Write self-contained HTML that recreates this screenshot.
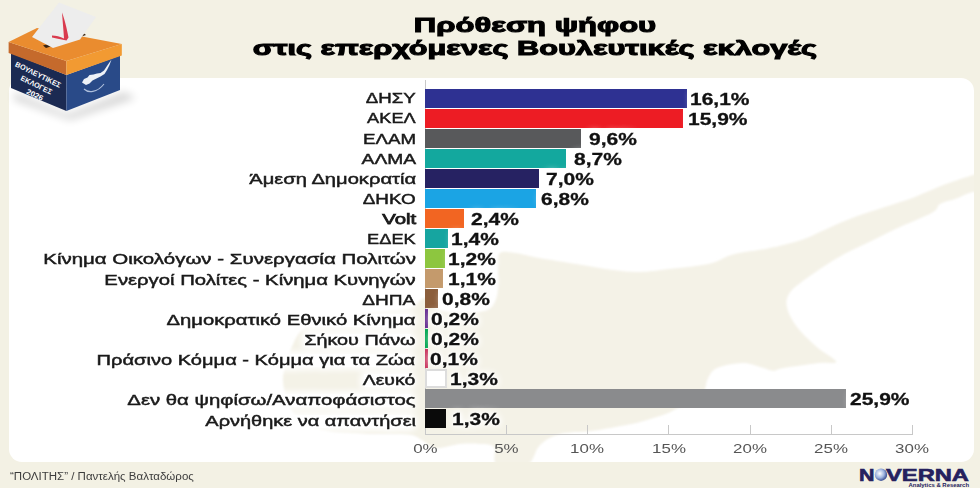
<!DOCTYPE html>
<html><head><meta charset="utf-8">
<style>
html,body{margin:0;padding:0;}
body{width:980px;height:488px;position:relative;overflow:hidden;background:#f3f1e4;font-family:"Liberation Sans",sans-serif;}
#panel{position:absolute;left:9px;top:78px;width:965px;height:384px;background:#ffffff;border-radius:13px;overflow:hidden;}
#map{position:absolute;left:0;top:0;}
.bar{position:absolute;height:18.5px;}
.lab{position:absolute;height:18px;line-height:18px;font-size:14.5px;color:#1a1a1a;white-space:nowrap;-webkit-text-stroke:0.45px #1a1a1a;text-shadow:0 0 2px #fff,0 0 3px #fff,0 0 5px #fff,0 0 7px #fff,0 0 9px #fff,0 0 9px #fff;}
.lab span{display:inline-block;transform-origin:100% 50%;position:relative;}
.lab span::before{content:'';position:absolute;left:1px;right:4px;top:3px;bottom:2px;background:#fff;box-shadow:0 0 6px 2px #fff;z-index:-1;}
.lab{z-index:1;}
.val{position:absolute;height:18px;line-height:18px;font-size:16px;font-weight:700;color:#111;white-space:nowrap;-webkit-text-stroke:0.3px #111;text-shadow:0 0 2px #fff,0 0 4px #fff,0 0 6px #fff,0 0 8px #fff,0 0 8px #fff;}
.val span{display:inline-block;transform-origin:0 50%;transform:scaleX(1.31);}
#axis{position:absolute;left:425px;top:80px;width:1px;height:355px;background:#c8c8c8;}
#haxis{position:absolute;left:425px;top:434px;width:488px;height:1px;background:#c8c8c8;}
.tick{position:absolute;top:425px;width:1px;height:9px;background:#c8c8c8;}
.tl{position:absolute;top:442px;width:80px;text-align:center;font-size:13px;color:#555;line-height:14px;}
.tl span{display:inline-block;transform:scaleX(1.3);}
#title{position:absolute;left:0;top:13px;width:1070px;text-align:center;font-weight:700;color:#000;font-size:21px;line-height:23.4px;-webkit-text-stroke:1.1px #000;}
#title div span{display:inline-block;transform:scaleX(1.462);}
#title div:first-child span{transform:scaleX(1.477);}
#src{position:absolute;left:10px;top:470.5px;font-size:10px;color:#3c3c3c;white-space:nowrap;}
#src span{display:inline-block;transform-origin:0 50%;transform:scaleX(1.15);}
#logo{position:absolute;left:859px;top:466px;}
</style></head><body>
<div id="panel">
<svg id="map" width="965" height="384" viewBox="9 78 965 384"><defs><filter id="mb" x="-5%" y="-5%" width="110%" height="110%"><feGaussianBlur stdDeviation="1.2"/></filter></defs>
<path filter="url(#mb)" fill="#f4f2e7" d="M425 298 C429.0 298.3 431.8 306.7 436 309 C440.2 311.3 444.2 311.3 450 312 C455.8 312.7 464.5 313.5 471 313 C477.5 312.5 484.7 311.8 489 309 C493.3 306.2 495.5 301.7 497 296 C498.5 290.3 497.7 282.0 498 275 C498.3 268.0 496.2 257.7 499 254 C501.8 250.3 508.3 252.3 515 253 C521.7 253.7 528.3 256.1 539 258 C549.7 259.9 566.7 262.5 579 264.5 C591.3 266.5 602.8 268.8 613 270 C623.2 271.2 630.7 272.2 640 272 C649.3 271.8 657.6 270.3 669 269 C680.4 267.7 697.8 266.4 708.5 264 C719.2 261.6 723.1 257.0 733 254.4 C742.9 251.8 756.1 250.9 767.6 248.5 C779.1 246.1 792.2 243.0 802 239.7 C811.8 236.4 817.6 232.8 826.6 228.9 C835.6 225.1 846.2 220.3 856 216.6 C865.8 212.9 875.8 210.0 885.6 206.7 C895.4 203.4 905.2 200.6 915 196.9 C924.8 193.2 934.8 188.3 944.6 184.6 C954.4 180.9 967.3 176.9 974 174.8 C980.7 172.7 983.2 169.3 985 172 C986.8 174.7 987.3 187.6 985 191 C982.7 194.4 976.0 191.1 971 192.4 C966.0 193.7 960.2 197.1 955 199 C949.8 200.9 943.8 201.7 940 204 C936.2 206.3 939.4 208.5 932 212.7 C924.6 216.8 906.5 223.8 895.5 228.9 C884.5 234.1 875.9 238.7 866 243.6 C856.1 248.5 846.2 252.7 836.4 258.4 C826.6 264.1 814.8 272.3 807 278 C799.2 283.7 793.0 287.9 789.7 292.8 C786.4 297.7 785.8 301.9 787 307.6 C788.2 313.3 792.0 320.4 797 327 C802.0 333.6 810.2 341.1 816.8 346.9 C823.4 352.7 836.0 359.0 836.4 361.7 C836.8 364.4 827.8 361.9 819 363 C810.2 364.1 791.1 366.7 783.4 368 C775.7 369.3 776.8 370.9 773 370.7 C769.2 370.5 765.5 368.3 760.4 367 C755.3 365.7 749.7 362.8 742.5 363 C735.3 363.2 722.8 365.4 717 368 C711.2 370.6 710.0 374.9 708 378.4 C706.0 381.8 706.3 385.1 705 388.7 C703.7 392.3 704.4 396.8 700 400 C695.6 403.2 684.1 405.7 678.4 408 C672.7 410.3 672.0 411.7 665.6 414 C659.2 416.3 647.4 420.0 640 422 C632.6 424.0 629.2 424.5 621 426 C612.8 427.5 601.2 429.7 591 431 C580.8 432.3 568.5 431.7 560 434 C551.5 436.3 545.5 439.8 540 445 C534.5 450.2 534.2 461.7 527 465 C519.8 468.3 502.5 468.0 497 465 C491.5 462.0 496.8 450.5 494 447 C491.2 443.5 485.7 444.5 480 444 C474.3 443.5 467.3 443.3 460 444 C452.7 444.7 442.3 448.7 436 448 C429.7 447.3 426.0 442.2 422 440 C418.0 437.8 416.5 436.0 412 435 C407.5 434.0 402.0 434.2 395 434 C388.0 433.8 377.0 434.2 370 434 C363.0 433.8 359.9 433.5 353 433 C346.1 432.5 336.7 432.6 328.5 431 C320.3 429.4 310.6 427.9 304 423.6 C297.4 419.3 292.5 412.4 289 405 C285.5 397.6 283.0 387.3 283 379 C283.0 370.7 286.8 361.8 289 355 C291.2 348.2 293.5 342.5 296 338 C298.5 333.5 300.8 330.7 304 328 C307.2 325.3 307.0 324.2 315 322 C323.0 319.8 338.7 317.0 352 315 C365.3 313.0 385.0 311.3 395 310 C405.0 308.7 407.0 309.0 412 307 C417.0 305.0 421.0 297.7 425 298Z"/>
</svg>
</div>
<div id="axis"></div><div id="haxis"></div>
<div class="tl" style="left:385.0px"><span>0%</span></div>
<div class="tick" style="left:505.8px"></div>
<div class="tl" style="left:466.2px"><span>5%</span></div>
<div class="tick" style="left:587.0px"></div>
<div class="tl" style="left:547.5px"><span>10%</span></div>
<div class="tick" style="left:668.2px"></div>
<div class="tl" style="left:628.8px"><span>15%</span></div>
<div class="tick" style="left:749.5px"></div>
<div class="tl" style="left:710.0px"><span>20%</span></div>
<div class="tick" style="left:830.8px"></div>
<div class="tl" style="left:791.2px"><span>25%</span></div>
<div class="tick" style="left:912.0px"></div>
<div class="tl" style="left:872.5px"><span>30%</span></div>
<div class="bar" style="left:425.0px;top:89.2px;width:261.6px;background:#2e3192;"></div>
<div class="lab" style="right:564.3px;top:89.2px;font-weight:400"><span style="transform:scaleX(1.289)">ΔΗΣΥ</span></div>
<div class="val" style="left:689.9px;top:91.2px"><span>16,1%</span></div>
<div class="bar" style="left:425.0px;top:109.2px;width:258.4px;background:#ed1c24;"></div>
<div class="lab" style="right:564.3px;top:109.3px;font-weight:400"><span style="transform:scaleX(1.256)">ΑΚΕΛ</span></div>
<div class="val" style="left:688.1px;top:111.2px"><span>15,9%</span></div>
<div class="bar" style="left:425.0px;top:129.2px;width:156.0px;background:#58595b;"></div>
<div class="lab" style="right:564.3px;top:129.5px;font-weight:400"><span style="transform:scaleX(1.289)">ΕΛΑΜ</span></div>
<div class="val" style="left:589.0px;top:131.2px"><span>9,6%</span></div>
<div class="bar" style="left:425.0px;top:149.2px;width:141.4px;background:#13a89e;"></div>
<div class="lab" style="right:564.3px;top:149.7px;font-weight:400"><span style="transform:scaleX(1.326)">ΑΛΜΑ</span></div>
<div class="val" style="left:573.9px;top:151.2px"><span>8,7%</span></div>
<div class="bar" style="left:425.0px;top:169.2px;width:113.8px;background:#262262;"></div>
<div class="lab" style="right:564.3px;top:169.8px;font-weight:400"><span style="transform:scaleX(1.389)">Άμεση Δημοκρατία</span></div>
<div class="val" style="left:546.1px;top:171.2px"><span>7,0%</span></div>
<div class="bar" style="left:425.0px;top:189.2px;width:110.5px;background:#1ba4e4;"></div>
<div class="lab" style="right:564.3px;top:189.9px;font-weight:400"><span style="transform:scaleX(1.303)">ΔΗΚΟ</span></div>
<div class="val" style="left:540.5px;top:191.2px"><span>6,8%</span></div>
<div class="bar" style="left:425.0px;top:209.2px;width:39.0px;background:#f26522;"></div>
<div class="lab" style="right:564.3px;top:210.1px;font-weight:400;-webkit-text-stroke:0.75px #1a1a1a"><span style="transform:scaleX(1.402)">Volt</span></div>
<div class="val" style="left:470.5px;top:211.2px"><span>2,4%</span></div>
<div class="bar" style="left:425.0px;top:229.2px;width:22.8px;background:#16a5a0;"></div>
<div class="lab" style="right:564.3px;top:230.2px;font-weight:400"><span style="transform:scaleX(1.256)">ΕΔΕΚ</span></div>
<div class="val" style="left:450.6px;top:231.2px"><span>1,4%</span></div>
<div class="bar" style="left:425.0px;top:249.2px;width:19.5px;background:#8dc63f;"></div>
<div class="lab" style="right:564.3px;top:250.4px;font-weight:400"><span style="transform:scaleX(1.412)">Κίνημα Οικολόγων - Συνεργασία Πολιτών</span></div>
<div class="val" style="left:447.5px;top:251.2px"><span>1,2%</span></div>
<div class="bar" style="left:425.0px;top:269.2px;width:17.9px;background:#c49a6c;"></div>
<div class="lab" style="right:564.3px;top:270.6px;font-weight:400"><span style="transform:scaleX(1.398)">Ενεργοί Πολίτες - Κίνημα Κυνηγών</span></div>
<div class="val" style="left:447.9px;top:271.2px"><span>1,1%</span></div>
<div class="bar" style="left:425.0px;top:289.2px;width:13.0px;background:#8b5e3c;"></div>
<div class="lab" style="right:564.3px;top:290.7px;font-weight:400"><span style="transform:scaleX(1.315)">ΔΗΠΑ</span></div>
<div class="val" style="left:441.6px;top:291.2px"><span>0,8%</span></div>
<div class="bar" style="left:425.0px;top:309.2px;width:3.2px;background:#662d91;"></div>
<div class="lab" style="right:564.3px;top:310.8px;font-weight:400"><span style="transform:scaleX(1.395)">Δημοκρατικό Εθνικό Κίνημα</span></div>
<div class="val" style="left:430.6px;top:311.2px"><span>0,2%</span></div>
<div class="bar" style="left:425.0px;top:329.2px;width:3.2px;background:#00a651;"></div>
<div class="lab" style="right:564.3px;top:331.0px;font-weight:400"><span style="transform:scaleX(1.366)">Σήκου Πάνω</span></div>
<div class="val" style="left:430.6px;top:331.2px"><span>0,2%</span></div>
<div class="bar" style="left:425.0px;top:349.2px;width:2.8px;background:#c8325c;"></div>
<div class="lab" style="right:564.3px;top:351.1px;font-weight:400"><span style="transform:scaleX(1.384)">Πράσινο Κόμμα - Κόμμα για τα Ζώα</span></div>
<div class="val" style="left:430.1px;top:351.2px"><span>0,1%</span></div>
<div class="bar" style="left:425.0px;top:369.2px;width:22.3px;background:#ffffff;box-sizing:border-box;border:2px solid #dcdcdc;"></div>
<div class="lab" style="right:564.3px;top:371.3px;font-weight:400"><span style="transform:scaleX(1.339)">Λευκό</span></div>
<div class="val" style="left:449.7px;top:371.2px"><span>1,3%</span></div>
<div class="bar" style="left:425.0px;top:389.2px;width:420.9px;background:#8a8b8d;"></div>
<div class="lab" style="right:564.3px;top:391.4px;font-weight:400"><span style="transform:scaleX(1.402)">Δεν θα ψηφίσω/Αναποφάσιστος</span></div>
<div class="val" style="left:849.7px;top:391.2px"><span>25,9%</span></div>
<div class="bar" style="left:425.0px;top:409.2px;width:21.1px;background:#0a0a0a;"></div>
<div class="lab" style="right:564.3px;top:411.6px;font-weight:400"><span style="transform:scaleX(1.377)">Αρνήθηκε να απαντήσει</span></div>
<div class="val" style="left:451.9px;top:411.2px"><span>1,3%</span></div>
<div id="title"><div><span>Πρόθεση ψήφου</span></div><div><span>στις επερχόμενες Βουλευτικές εκλογές</span></div></div>
<div id="src"><span>“ΠΟΛΙΤΗΣ” / Παντελής Βαλταδώρος</span></div>
<svg id="box" style="position:absolute;left:0;top:0" width="160" height="130" viewBox="0 0 160 130">
<defs><filter id="blur" x="-50%" y="-50%" width="200%" height="200%"><feGaussianBlur stdDeviation="4"/></filter></defs>
<path d="M14 92 L68 114 L124 92 L136 98 L70 120 L14 100 Z" fill="#000" opacity="0.16" filter="url(#blur)"/>
<polygon points="11,53 66.4,75 66.4,111 11,88" fill="#1b2a52"/>
<polygon points="66.4,75 120,55.4 120,90 66.4,111" fill="#294a88"/>
<polygon points="8.6,42 66.4,61 66.4,75 8.6,53" fill="#c56a2c"/>
<polygon points="66.4,61 121.8,44 121.8,55.4 66.4,75" fill="#f29a32"/>
<polygon points="8.6,42 37,28 121.8,44 66.4,61" fill="#ea8c2f"/>
<polygon points="43,45.5 84,33.5 86,35 46,48" fill="#3a2412"/>
<polygon points="59,2.5 96,17 80,39.5 53,48 32,37" fill="#ededed"/>
<path d="M52 35.5 C 56 35.5 60 36.5 64 38.5 C 63.5 30 62.5 20 62 12.5 C 64.5 19 67 29 68.5 37.5 L 66.5 40.5 C 61.5 39.5 56.5 38.5 52 37.5 Z" fill="#d93a4e"/>
<g transform="translate(14.5,66) rotate(26)" fill="#fff" font-weight="700" font-size="7.4" text-anchor="middle">
<text x="25" y="0" textLength="50" lengthAdjust="spacingAndGlyphs">ΒΟΥΛΕΥΤΙΚΕΣ</text><text x="28" y="10" textLength="34" lengthAdjust="spacingAndGlyphs">ΕΚΛΟΓΕΣ</text><text x="31" y="19.5" textLength="18" lengthAdjust="spacingAndGlyphs">2026</text></g>
<path fill="#eef2f8" d="M82 82.5 L84 79 L87.5 77.5 L89.5 75 L93.5 74.5 L97 73.5 L100.5 73 L104 70.5 L108 64.5 L111.5 59.5 L109.5 65 L107 70 L104.5 74 L100.5 76.5 L96.5 78.5 L92.5 80.5 L89.5 83.5 L86 85 Z"/>
<path fill="none" stroke="#aebfdc" stroke-width="1.1" d="M84 89 C 88 93 97 93 104 84"/>
</svg>
<div id="logo"><svg width="121" height="22" viewBox="0 0 121 22">
<defs><radialGradient id="g" cx="40%" cy="40%" r="65%"><stop offset="0" stop-color="#ffffff"/><stop offset="0.55" stop-color="#9db3df"/><stop offset="1" stop-color="#2a3d86"/></radialGradient></defs>
<text x="0" y="14.7" font-family="Liberation Sans" font-weight="700" font-size="16.5" fill="#25215e" stroke="#25215e" stroke-width="0.6" textLength="15.5" lengthAdjust="spacingAndGlyphs">N</text>
<circle cx="22" cy="8.7" r="6.2" fill="url(#g)"/>
<text x="27" y="14.7" font-family="Liberation Sans" font-weight="700" font-size="16.5" fill="#25215e" stroke="#25215e" stroke-width="0.6" textLength="83" lengthAdjust="spacingAndGlyphs">VERNA</text>
<text x="49.5" y="20.5" font-family="Liberation Sans" font-weight="700" font-size="4.8" fill="#25215e" textLength="60.5" lengthAdjust="spacingAndGlyphs">Analytics &amp; Research</text>
</svg></div>
</body></html>
